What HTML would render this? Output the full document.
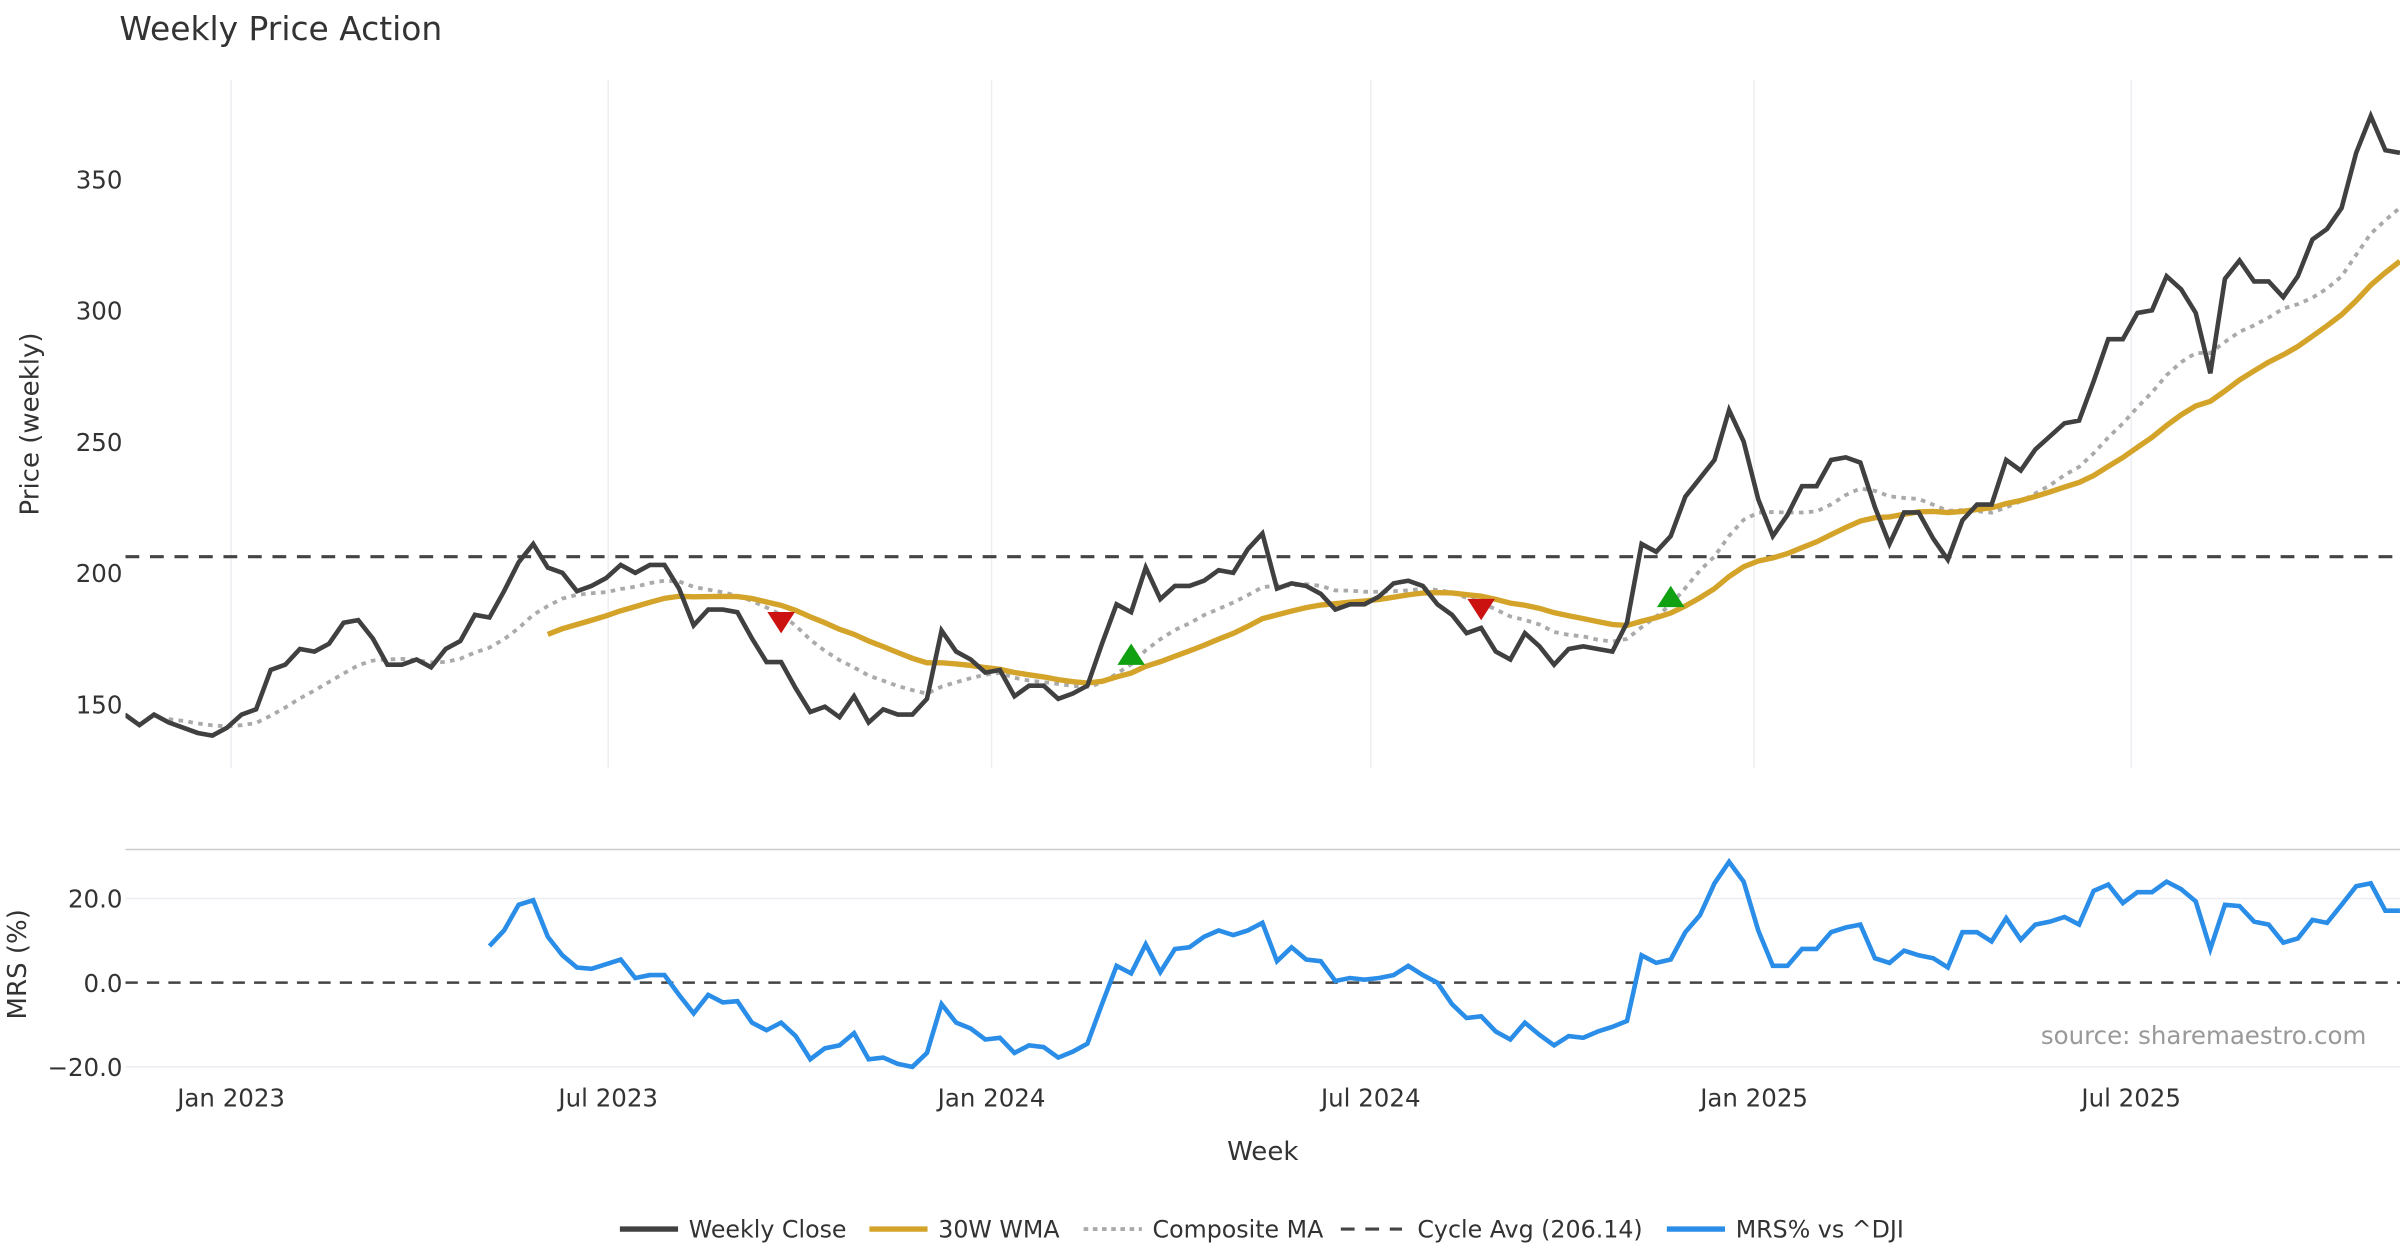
<!DOCTYPE html>
<html><head><meta charset="utf-8"><style>
html,body{margin:0;padding:0;background:#fff;}
svg{display:block;font-family:"DejaVu Sans","Liberation Sans",sans-serif;}
</style></head><body>
<svg id="chart" width="2400" height="1260" viewBox="0 0 1568 823.2" xmlns="http://www.w3.org/2000/svg">
<defs>
<clipPath id="mainClip"><rect x="82" y="40" width="1486" height="470"/></clipPath>
<clipPath id="lowClip"><rect x="82" y="556" width="1486" height="150"/></clipPath>
</defs>
<text x="78" y="26" font-size="21.5" fill="#333">Weekly Price Action</text>
<g id="grid"></g>
<g id="main" clip-path="url(#mainClip)"></g>
<g id="low" clip-path="url(#lowClip)"></g>
<g id="axes"></g>
<text transform="translate(25,277) rotate(-90)" text-anchor="middle" font-size="17" fill="#333">Price (weekly)</text>
<text transform="translate(17,630) rotate(-90)" text-anchor="middle" font-size="17" fill="#333">MRS (%)</text>
<text x="825" y="758" text-anchor="middle" font-size="17" fill="#333">Week</text>
<text x="1546" y="682" text-anchor="end" font-size="16" fill="#999">source: sharemaestro.com</text>
<g font-size="15.5" fill="#333">
<g><line x1="405" y1="803" x2="443" y2="803" stroke="#404040" stroke-width="3.5"/><text x="450" y="808.5">Weekly Close</text></g>
<g><line x1="568" y1="803" x2="606" y2="803" stroke="#d4a42a" stroke-width="3.5"/><text x="613" y="808.5">30W WMA</text></g>
<g><line x1="708" y1="803" x2="746" y2="803" stroke="#aaa" stroke-width="2.5" stroke-dasharray="3,3"/><text x="753" y="808.5">Composite MA</text></g>
<g><line x1="876" y1="803" x2="916" y2="803" stroke="#444" stroke-width="2" stroke-dasharray="9,7"/><text x="926" y="808.5">Cycle Avg (206.14)</text></g>
<g><line x1="1089" y1="803" x2="1127" y2="803" stroke="#2a8de8" stroke-width="3.5"/><text x="1134" y="808.5">MRS% vs ^DJI</text></g>
</g>
</svg>
<script>
const startDate = "2022-11-11";
const closes = [146,142,146,143,141,139,138,141,146,148,163,165,171,170,173,181,182,175,165,165,167,164,171,174,184,183,193,204,211,202,200,193,195,198,203,200,203,203,194,180,186,186,185,175,166,166,156,147,149,145,153,143,148,146,146,152,178,170,167,162,163,153,157,157,152,154,157,173,188,185,202,190,195,195,197,201,200,209,215,194,196,195,192,186,188,188,191,196,197,195,188,184,177,179,170,167,177,172,165,171,172,171,170,181,211,208,214,229,236,243,262,250,228,214,222,233,233,243,244,242,225,211,223,223,213,205,220,226,226,243,239,247,252,257,258,273,289,289,299,300,313,308,299,276,312,319,311,311,305,313,327,331,339,360,374,361,360];
const mrsStart = 25;
const mrs = [8.7,12.4,18.5,19.6,10.9,6.5,3.6,3.3,4.4,5.5,1.1,1.8,1.8,-2.9,-7.3,-2.9,-4.7,-4.4,-9.5,-11.3,-9.5,-12.7,-18.2,-15.6,-14.9,-12,-18.2,-17.8,-19.3,-20,-16.7,-5.1,-9.5,-10.9,-13.5,-13.1,-16.7,-14.9,-15.3,-17.8,-16.4,-14.5,-5.1,4,2.2,9.1,2.5,8,8.4,10.9,12.4,11.3,12.4,14.2,5.1,8.4,5.5,5.1,0.4,1.1,0.7,1.1,1.8,4,1.8,0,-5.1,-8.4,-8,-11.6,-13.5,-9.5,-12.4,-14.9,-12.7,-13.1,-11.6,-10.5,-9.1,6.5,4.7,5.5,12,16,23.6,28.7,24,12.4,4,4,8,8,12,13.1,13.8,5.8,4.7,7.6,6.5,5.8,3.6,12,12,9.8,15.3,10.2,13.8,14.5,15.6,13.8,21.8,23.3,18.9,21.5,21.5,24,22.2,19.3,8,18.5,18.2,14.5,13.8,9.5,10.5,14.9,14.2,18.5,22.9,23.6,17.1,17.1];
const cycleAvg = 206.14;
const sellIdx = [45, 93];
const sellPrice = [181, 186];
const buyIdx = [69, 106];
const buyPrice = [169, 191];
const priceTicks = [150,200,250,300,350];
const mrsTicks = [-20,0,20];
const mrsTickLabels = ["\u221220.0","0.0","20.0"];
const dateTicks = ["2023-01-01","2023-07-01","2024-01-01","2024-07-01","2025-01-01","2025-07-01"];
const dateTickLabels = ["Jan 2023","Jul 2023","Jan 2024","Jul 2024","Jan 2025","Jul 2025"];

const NS="http://www.w3.org/2000/svg";
const DAY=86400000, refT=Date.UTC(2023,0,1), pxPerDay=995/731;
function xDate(s){const d=new Date(s+"T00:00:00Z").getTime();return 151+(d-refT)/DAY*pxPerDay;}
const t0=new Date(startDate+"T00:00:00Z").getTime();
function xIdx(i){return 151+(t0+i*7*DAY-refT)/DAY*pxPerDay;}
function yP(v){return 117+(350-v)*85.75/50;}
function yM(v){return 642-v*2.75;}
function mk(tag,attrs,parent){const e=document.createElementNS(NS,tag);for(const k in attrs)e.setAttribute(k,attrs[k]);parent.appendChild(e);return e;}
const G=document.getElementById('grid'),M=document.getElementById('main'),L=document.getElementById('low'),A=document.getElementById('axes');

const wma=closes.map((c,i)=>{if(i<29)return null;let s=0,w=0;for(let k=0;k<30;k++){s+=closes[i-k]*(30-k);w+=30-k;}return s/w;});
function sma(i,n){const a=Math.max(0,i-n+1);let s=0;for(let k=a;k<=i;k++)s+=closes[k];return s/(i-a+1);}
const comp=closes.map((c,i)=>i<3?null:(sma(i,5)+sma(i,10)+sma(i,20))/3);

dateTicks.forEach((d,i)=>{const x=xDate(d);
 const l=mk('line',{x1:x,x2:x,y1:52,y2:502,stroke:'#eceef2','stroke-width':1},G);
 
 
 const t=mk('text',{x:x,y:723,'text-anchor':'middle','font-size':16,fill:'#333'},A);
 
 
 t.textContent=dateTickLabels[i];});
priceTicks.forEach(v=>{const t=mk('text',{x:80,y:yP(v)+6,'text-anchor':'end','font-size':16,fill:'#333'},A);
 
 
 t.textContent=v;});
mrsTicks.forEach((v,i)=>{const t=mk('text',{x:80,y:yM(v)+6,'text-anchor':'end','font-size':16,fill:'#333'},A);
 
 
 t.textContent=mrsTickLabels[i];
 if(v!==0){const g=mk('line',{x1:82,x2:1568,y1:yM(v),y2:yM(v),stroke:'#eceef2','stroke-width':1},G);
 
 }});
const panelTop=mk('line',{x1:82,x2:1568,y1:555,y2:555,stroke:'#ccc','stroke-width':1},G);



function pathD(vals,xf,yf){let d='';vals.forEach((v,i)=>{if(v==null)return;d+=(d?'L':'M')+xf(i).toFixed(2)+','+yf(v).toFixed(2);});return d;}
const ca=mk('line',{x1:82,x2:1568,y1:yP(cycleAvg),y2:yP(cycleAvg),stroke:'#444','stroke-width':2,'stroke-dasharray':'9,7'},M);


const pc=mk('path',{d:pathD(comp,xIdx,yP),fill:'none',stroke:'#aaa','stroke-width':2.5,'stroke-dasharray':'3,3.5'},M);


const pw=mk('path',{d:pathD(wma,xIdx,yP),fill:'none',stroke:'#d4a42a','stroke-width':3.5},M);


const pcl=mk('path',{d:pathD(closes,xIdx,yP),fill:'none',stroke:'#404040','stroke-width':3},M);


sellIdx.forEach((ix,i)=>{const x=xIdx(ix),y=yP(sellPrice[i]);
 const p=mk('polygon',{points:`${x-9},${y-7} ${x+9},${y-7} ${x},${y+7}`,fill:'#cc1111'},M);
 
 });
buyIdx.forEach((ix,i)=>{const x=xIdx(ix),y=yP(buyPrice[i]);
 const p=mk('polygon',{points:`${x-9},${y+7} ${x+9},${y+7} ${x},${y-7}`,fill:'#11a011'},M);
 
 });

const z=mk('line',{x1:82,x2:1568,y1:yM(0),y2:yM(0),stroke:'#444','stroke-width':1.6,'stroke-dasharray':'8,6'},L);


const pm=mk('path',{d:pathD(mrs,i=>xIdx(i+mrsStart),yM),fill:'none',stroke:'#2a8de8','stroke-width':3},L);


</script>
</body></html>
